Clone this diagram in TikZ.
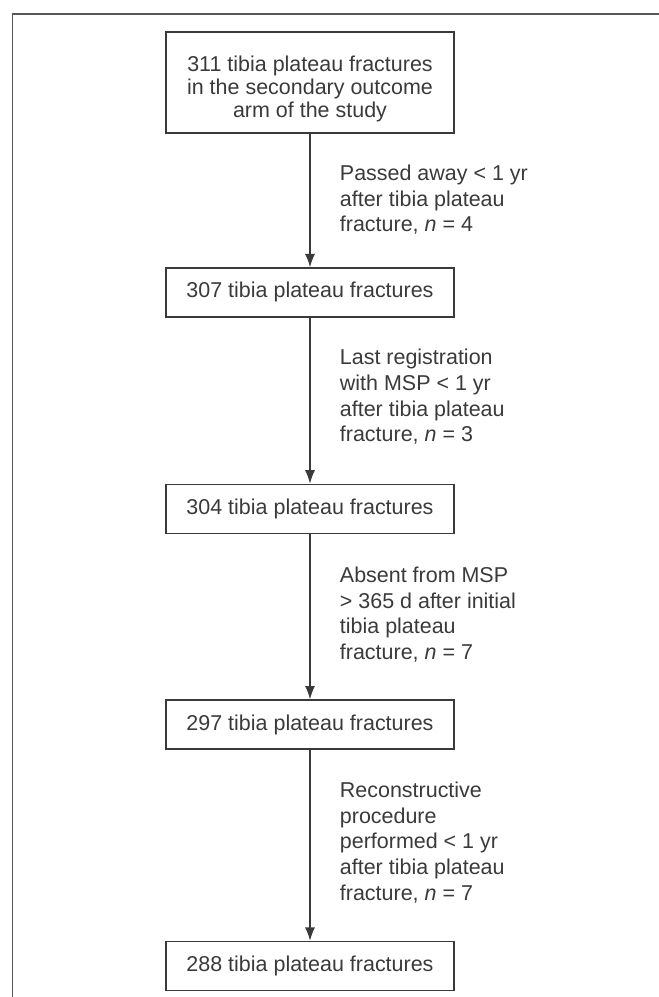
\documentclass[tikz,border=0pt]{standalone}
\usepackage{fontspec}
\setmainfont{Liberation Sans}
\usetikzlibrary{arrows.meta}
\definecolor{inkgray}{HTML}{3A3A3A}

\begin{document}
\begin{tikzpicture}[x=0.75pt,y=-0.75pt,line width=.95pt,draw=inkgray,
   box/.style={draw=inkgray,text=inkgray,minimum width=216pt,minimum height=36.75pt,inner sep=0pt,font=\fontsize{16.1}{17.25}\selectfont},
   note/.style={anchor=north west,inner sep=0pt,align=left,text=inkgray,font=\fontsize{16.1}{19.3}\selectfont},
   flow/.style={-{Latex[length=10pt,width=7.5pt]}}]
   \useasboundingbox (0,0) rectangle (659,997);
   \draw[color=inkgray!85] (659,14) -- (12.7,14) -- (12.7,997);
   \node[box,minimum height=75.75pt] (b1) at (310,82.5) {\raisebox{-5.9pt}[\height][\depth]{\begin{tabular}{@{}c@{}}311 tibia plateau fractures\\in the secondary outcome\\arm of the study\end{tabular}}};
   \node[box] (b2) at (310,292.4) {307 tibia plateau fractures};
   \node[box] (b3) at (310,508.7) {304 tibia plateau fractures};
   \node[box] (b4) at (310,724.5) {297 tibia plateau fractures};
   \node[box] (b5) at (310,965.9) {288 tibia plateau fractures};
   \node[note] (l1) at (339.3,164.3) {Passed away < 1 yr\\after tibia plateau\\fracture, \textit{n} = 4};
   \node[note] (l2) at (339.3,348.5) {Last registration\\with MSP < 1 yr\\after tibia plateau\\fracture, \textit{n} = 3};
   \node[note] (l3) at (339.3,566.1) {Absent from MSP\\> 365 d after initial\\tibia plateau\\fracture, \textit{n} = 7};
   \node[note] (l4) at (339.3,781.1) {Reconstructive\\procedure\\performed < 1 yr\\after tibia plateau\\fracture, \textit{n} = 7};
   \draw[flow] (b1) -- (b2);
   \draw[flow] (b2) -- (b3);
   \draw[flow] (b3) -- (b4);
   \draw[flow] (b4) -- (b5);
\end{tikzpicture}
\end{document}
